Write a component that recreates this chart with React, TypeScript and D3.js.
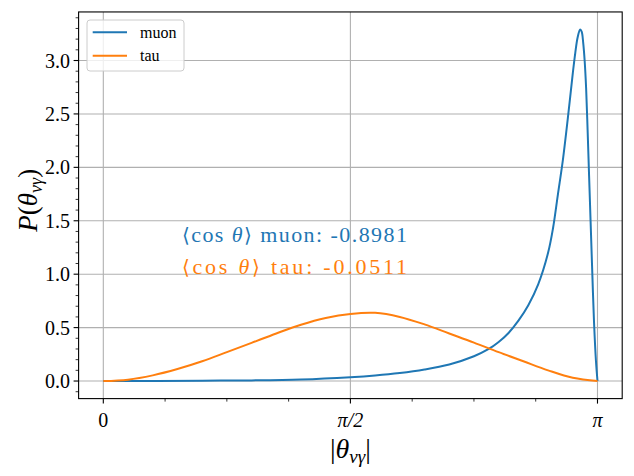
import React from "react";
import * as d3 from "d3";

// x values are expressed as fractions of π
const tauX = [0, 0.05, 0.1, 0.15, 0.2, 0.25, 0.3, 0.35, 0.4, 0.45, 0.5, 0.55, 0.6, 0.65, 0.7, 0.75, 0.8, 0.85, 0.9, 0.95, 1.0];
const tauY = [0, 0.013, 0.053, 0.112, 0.185, 0.27, 0.357, 0.445, 0.527, 0.59, 0.628, 0.638, 0.6, 0.53, 0.445, 0.36, 0.27, 0.185, 0.1, 0.03, 0];

const muonX = [0, 0.1, 0.2, 0.3, 0.4, 0.5, 0.55, 0.6, 0.65, 0.7, 0.75, 0.78, 0.8, 0.82, 0.84, 0.86, 0.88, 0.9, 0.91, 0.92, 0.93, 0.94, 0.95, 0.955, 0.96, 0.965, 0.968, 0.971, 0.974, 0.977, 0.98, 0.983, 0.986, 0.989, 0.993, 0.997, 1.0];
const muonY = [0, 0.001, 0.003, 0.006, 0.0145, 0.036, 0.052, 0.075, 0.108, 0.155, 0.232, 0.3, 0.365, 0.45, 0.565, 0.71, 0.905, 1.2, 1.43, 1.75, 2.07, 2.46, 2.88, 3.07, 3.22, 3.29, 3.27, 3.17, 3.0, 2.74, 2.35, 1.92, 1.5, 1.08, 0.55, 0.18, 0];

const yTicks = [0, 0.5, 1.0, 1.5, 2.0, 2.5, 3.0];
const yTickLabels = ["0.0", "0.5", "1.0", "1.5", "2.0", "2.5", "3.0"];
const xTicks = [0, 0.5, 1.0];
const xTickLabels = ["0", "π/2", "π"];
const seriesNames = ["muon", "tau"];
const colors = ["#1f77b4", "#ff7f0e"];
const meanCos = ["-0.8981", "-0.0511"];
const annY = [1.3, 1.0];

const W = 634, H = 476;
const FONT = "'Liberation Serif', 'DejaVu Serif', serif";

export default function App() {
  const x = d3.scaleLinear().domain([-0.05, 1.05]).range([78.6, 622.2]);
  const y = d3.scaleLinear().domain([-0.1645, 3.4545]).range([398.6, 11.95]);
  const [x0, x1] = x.range();
  const [y0, y1] = y.range();

  const line = d3.line<[number, number]>()
    .x(d => x(d[0])).y(d => y(d[1]))
    .curve(d3.curveCatmullRom.alpha(0.5));

  const muonPath = line(muonX.map((v, i) => [v, muonY[i]]) as [number, number][]) || "";
  const tauPath = line(tauX.map((v, i) => [v, tauY[i]]) as [number, number][]) || "";

  const xMinor = d3.range(1, 8).filter(i => i !== 4).map(i => i / 8);
  const yMinor = d3.range(-1, 35).map(i => i / 10).filter(v => Math.abs(v * 2 - Math.round(v * 2)) > 1e-6);

  return (
    <svg width={W} height={H} style={{ display: "block", position: "absolute", left: 0, top: 0 }} fontFamily={FONT}>
      <rect x={0} y={0} width={W} height={H} fill="#fff" />
      <defs>
        <clipPath id="plot">
          <rect x={x0} y={y1} width={x1 - x0} height={y0 - y1} />
        </clipPath>
      </defs>
      {xTicks.map((t, i) => (
        <line key={"gx" + i} x1={x(t)} x2={x(t)} y1={y0} y2={y1} stroke="#b0b0b0" strokeWidth={1.1} />
      ))}
      {yTicks.map((t, i) => (
        <line key={"gy" + i} x1={x0} x2={x1} y1={y(t)} y2={y(t)} stroke="#b0b0b0" strokeWidth={1.1} />
      ))}
      <g clipPath="url(#plot)" fill="none" strokeWidth={2} strokeLinejoin="round" strokeLinecap="butt">
        <path d={muonPath} stroke={colors[0]} />
        <path d={tauPath} stroke={colors[1]} />
      </g>
      {meanCos.map((m, i) => (
        <text key={"ann" + i} x={x(0.5 / Math.PI)} y={y(annY[i])} fill={colors[i]} fontSize={22}
          textLength={225} lengthAdjust="spacing">
          <tspan fontFamily="'DejaVu Serif', serif" fontSize={20}>⟨</tspan>
          <tspan>cos </tspan>
          <tspan fontStyle="italic">θ</tspan>
          <tspan fontFamily="'DejaVu Serif', serif" fontSize={20}>⟩</tspan>
          <tspan>{` ${seriesNames[i]}: ${m}`}</tspan>
        </text>
      ))}
      <rect x={x0} y={y1} width={x1 - x0} height={y0 - y1} fill="none" stroke="#000" strokeWidth={1.1} />
      {xTicks.map((t, i) => (
        <g key={"xt" + i}>
          <line x1={x(t)} x2={x(t)} y1={y0} y2={y0 + 5} stroke="#000" strokeWidth={1.1} />
          <text x={x(t)} y={427} textAnchor="middle" fontSize={20} fontStyle={i > 0 ? "italic" : "normal"}>{xTickLabels[i]}</text>
        </g>
      ))}
      {xMinor.map((t, i) => (
        <line key={"xm" + i} x1={x(t)} x2={x(t)} y1={y0} y2={y0 + 3} stroke="#000" strokeWidth={0.8} />
      ))}
      {yTicks.map((t, i) => (
        <g key={"yt" + i}>
          <line x1={x0 - 5} x2={x0} y1={y(t)} y2={y(t)} stroke="#000" strokeWidth={1.1} />
          <text x={70} y={y(t) + 7} textAnchor="end" fontSize={20}>{yTickLabels[i]}</text>
        </g>
      ))}
      {yMinor.map((t, i) => (
        <line key={"ym" + i} x1={x0 - 3} x2={x0} y1={y(t)} y2={y(t)} stroke="#000" strokeWidth={0.8} />
      ))}
      <text x={(x0 + x1) / 2} y={458} textAnchor="middle" fontSize={28}>
        <tspan>|</tspan>
        <tspan fontStyle="italic">θ</tspan>
        <tspan fontStyle="italic" fontSize={19} dy={5}>νγ</tspan>
        <tspan dy={-5}>|</tspan>
      </text>
      <text transform={`translate(37,${(y0 + y1) / 2 - 5}) rotate(-90)`} textAnchor="middle" fontSize={27}>
        <tspan fontStyle="italic">P</tspan>
        <tspan>(</tspan>
        <tspan fontStyle="italic">θ</tspan>
        <tspan fontStyle="italic" fontSize={18} dy={5}>νγ</tspan>
        <tspan dy={-5}>)</tspan>
      </text>
      <rect x={87} y={20} width={97} height={51} rx={3} fill="#fff" fillOpacity={0.8} stroke="#cccccc" strokeWidth={1} />
      {seriesNames.map((n, i) => (
        <g key={"lg" + i}>
          <line x1={92.7} x2={127} y1={32.3 + i * 23.4} y2={32.3 + i * 23.4} stroke={colors[i]} strokeWidth={2} />
          <text x={140} y={37.5 + i * 23.4} fontSize={16}>{n}</text>
        </g>
      ))}
    </svg>
  );
}
